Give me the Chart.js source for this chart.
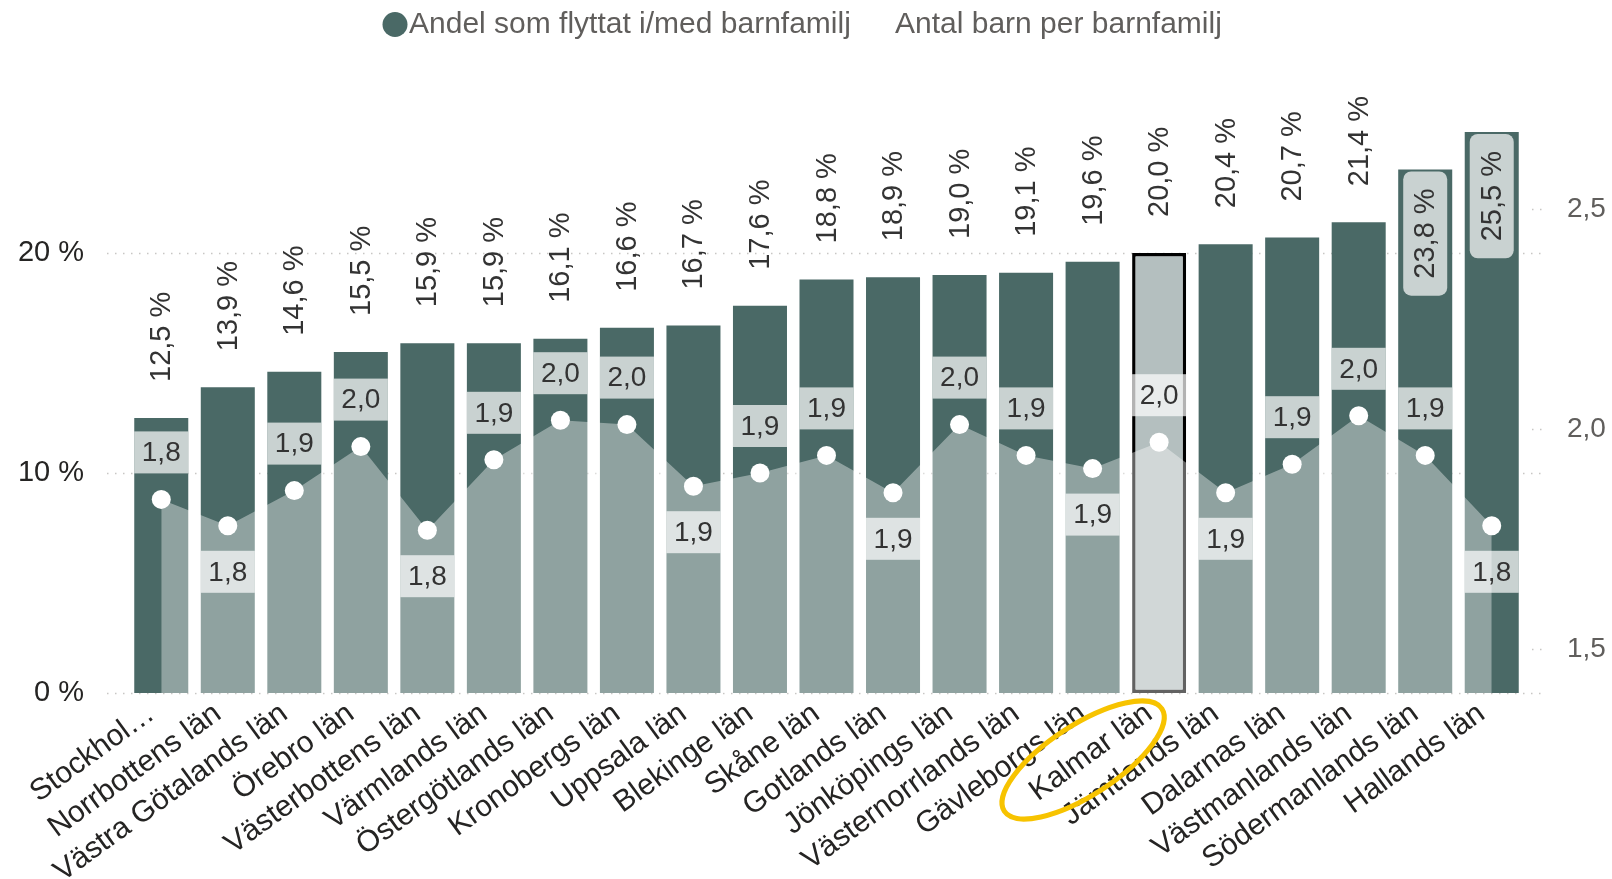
<!DOCTYPE html>
<html><head><meta charset="utf-8">
<script src="https://cdn.jsdelivr.net/npm/chart.js@4.4.1/dist/chart.umd.min.js"></script>
<style>html,body{margin:0;padding:0;background:#fff}#wrap{width:1612px;height:879px;position:relative}</style>
</head><body><div id="wrap"><canvas id="c" width="1612" height="879"></canvas></div>
<script>
const categories = ["Stockhol…","Norrbottens län","Västra Götalands län","Örebro län","Västerbottens län","Värmlands län","Östergötlands län","Kronobergs län","Uppsala län","Blekinge län","Skåne län","Gotlands län","Jönköpings län","Västernorrlands län","Gävleborgs län","Kalmar län","Jämtlands län","Dalarnas län","Västmanlands län","Södermanlands län","Hallands län"];
const andelFlyttat = [12.5,13.9,14.6,15.5,15.9,15.9,16.1,16.6,16.7,17.6,18.8,18.9,19.0,19.1,19.6,20.0,20.4,20.7,21.4,23.8,25.5];
const antalBarn = [1.84,1.78,1.86,1.96,1.77,1.93,2.02,2.01,1.87,1.90,1.94,1.855,2.01,1.94,1.91,1.97,1.855,1.92,2.03,1.94,1.78];
const leftTicks = [0,10,20];
const rightTicks = [1.5,2.0,2.5];
const seriesNames = ["Andel som flyttat i/med barnfamilj","Antal barn per barnfamilj"];
const highlighted = "Kalmar län";

const FONT = '"Liberation Sans", Arial, sans-serif';
const DARK = '#4a6966';
const fmt1 = v => (Math.round(v*10)/10).toFixed(1).replace('.', ',');

const customPlugin = {
  id: 'custom',
  beforeDatasetsDraw(chart) {
    const ctx = chart.ctx, ca = chart.chartArea;
    const y = chart.scales.y, y1 = chart.scales.y1;
    ctx.save();
    ctx.strokeStyle = '#c8c6c4';
    ctx.lineWidth = 1.5;
    ctx.setLineDash([1.5, 6.5]);
    leftTicks.forEach(t => {
      const py = Math.round(y.getPixelForValue(t)) + 0.5;
      ctx.beginPath(); ctx.moveTo(ca.left - 21, py); ctx.lineTo(ca.right + 21, py); ctx.stroke();
    });
    rightTicks.forEach(t => {
      const py = Math.round(y1.getPixelForValue(t)) + 0.5;
      ctx.beginPath(); ctx.moveTo(ca.right + 7, py); ctx.lineTo(ca.right + 21, py); ctx.stroke();
    });
    ctx.restore();
  },
  afterDatasetsDraw(chart) {
    const ctx = chart.ctx;
    const barMeta = chart.getDatasetMeta(0);
    const lineMeta = chart.getDatasetMeta(1);
    ctx.save();
    // line value labels
    ctx.font = '28px ' + FONT;
    ctx.textAlign = 'center';
    ctx.textBaseline = 'middle';
    lineMeta.data.forEach((pt, i) => {
      const bar = barMeta.data[i];
      const w = bar.width;
      const v = antalBarn[i];
      const prev = i > 0 ? antalBarn[i-1] : Infinity;
      const next = i < antalBarn.length - 1 ? antalBarn[i+1] : Infinity;
      const below = v < prev && v < next;
      const h = 42;
      const top = below ? pt.y + 25 : pt.y - 26 - h;
      ctx.fillStyle = 'rgba(255,255,255,0.7)';
      ctx.fillRect(bar.x - w/2, top, w, h);
      ctx.fillStyle = '#333333';
      ctx.fillText(fmt1(v), bar.x, top + h/2 + 1);
    });
    // bar value labels
    ctx.font = '29px ' + FONT;
    barMeta.data.forEach((bar, i) => {
      const txt = andelFlyttat[i].toFixed(1).replace('.', ',') + ' %';
      const tw = ctx.measureText(txt).width;
      const topY = bar.y;
      if (topY - 36 - tw < 60) {
        const bw = 44, bh = tw + 34;
        ctx.fillStyle = 'rgba(255,255,255,0.7)';
        ctx.beginPath();
        ctx.roundRect(bar.x - bw/2, topY + 2, bw, bh, 8);
        ctx.fill();
        ctx.save();
        ctx.translate(bar.x, topY + 2 + bh/2);
        ctx.rotate(-Math.PI/2);
        ctx.fillStyle = '#333333';
        ctx.textAlign = 'center';
        ctx.textBaseline = 'middle';
        ctx.fillText(txt, 0, 1);
        ctx.restore();
      } else {
        ctx.save();
        ctx.translate(bar.x, topY - 36);
        ctx.rotate(-Math.PI/2);
        ctx.fillStyle = '#333333';
        ctx.textAlign = 'left';
        ctx.textBaseline = 'middle';
        ctx.fillText(txt, 0, 1);
        ctx.restore();
      }
    });
    ctx.restore();
  },
  afterDraw(chart) {
    const ctx = chart.ctx;
    ctx.save();
    // legend
    ctx.fillStyle = DARK;
    ctx.beginPath(); ctx.arc(395, 24.5, 12.5, 0, Math.PI*2); ctx.fill();
    ctx.font = '30px ' + FONT;
    ctx.fillStyle = '#605e5c';
    ctx.textBaseline = 'alphabetic';
    ctx.textAlign = 'left';
    ctx.fillText(seriesNames[0], 409, 33);
    ctx.fillText(seriesNames[1], 895, 33);
    // highlight ellipse around the highlighted label
    const idx = categories.indexOf(highlighted);
    const x = chart.scales.x;
    const cx = x.getPixelForValue(idx) - 76;
    const cy = chart.chartArea.bottom + 67;
    ctx.strokeStyle = '#f7c300';
    ctx.lineWidth = 5;
    ctx.beginPath();
    ctx.ellipse(cx, cy, 94, 35, -33 * Math.PI/180, 0, Math.PI*2);
    ctx.stroke();
    ctx.restore();
  }
};

const hiIdx = categories.indexOf(highlighted);
const barBg = categories.map((c, i) => i === hiIdx ? '#b4bfbf' : DARK);
const barBorder = categories.map((c, i) => i === hiIdx ? '#000000' : DARK);
const barBorderW = categories.map((c, i) => i === hiIdx ? 3.5 : 0);

new Chart(document.getElementById('c'), {
  data: {
    labels: categories,
    datasets: [
      {
        type: 'bar',
        label: seriesNames[0],
        data: andelFlyttat,
        yAxisID: 'y',
        backgroundColor: barBg,
        borderColor: barBorder,
        borderWidth: barBorderW,
        borderSkipped: false,
        barPercentage: 0.812,
        categoryPercentage: 1,
        order: 2
      },
      {
        type: 'line',
        label: seriesNames[1],
        data: antalBarn,
        yAxisID: 'y1',
        borderColor: 'rgba(0,0,0,0)',
        borderWidth: 0,
        backgroundColor: 'rgba(255,255,255,0.385)',
        fill: 'start',
        tension: 0,
        pointRadius: 9.5,
        pointBackgroundColor: '#ffffff',
        pointBorderColor: 'rgba(0,0,0,0)',
        pointBorderWidth: 0,
        order: 1
      }
    ]
  },
  options: {
    responsive: false,
    animation: false,
    events: [],
    layout: { padding: { top: 121, left: 0, right: 0, bottom: 0 } },
    plugins: { legend: { display: false }, tooltip: { enabled: false }, title: { display: false } },
    scales: {
      x: {
        type: 'category',
        offset: true,
        grid: { display: false, drawTicks: false },
        border: { display: false },
        ticks: {
          autoSkip: false, minRotation: 36, maxRotation: 36, padding: 3, labelOffset: -10,
          color: '#252423', font: { family: FONT, size: 30 }
        },
        afterFit: s => { s.height = 186; }
      },
      y: {
        position: 'left', min: 0, max: 26,
        grid: { display: false, drawTicks: false },
        border: { display: false },
        ticks: { padding: 44, color: '#252423', font: { family: FONT, size: 29 }, callback: v => v + ' %' },
        afterBuildTicks: s => { s.ticks = leftTicks.map(v => ({ value: v })); },
        afterFit: s => { s.width = 128; }
      },
      y1: {
        position: 'right', min: 1.4, max: 2.7,
        grid: { display: false, drawTicks: false },
        border: { display: false },
        ticks: { padding: 42, color: '#605e5c', font: { family: FONT, size: 28 }, callback: v => v.toFixed(1).replace('.', ',') },
        afterBuildTicks: s => { s.ticks = rightTicks.map(v => ({ value: v })); },
        afterFit: s => { s.width = 87; }
      }
    }
  },
  plugins: [customPlugin]
});
</script>
</body></html>
